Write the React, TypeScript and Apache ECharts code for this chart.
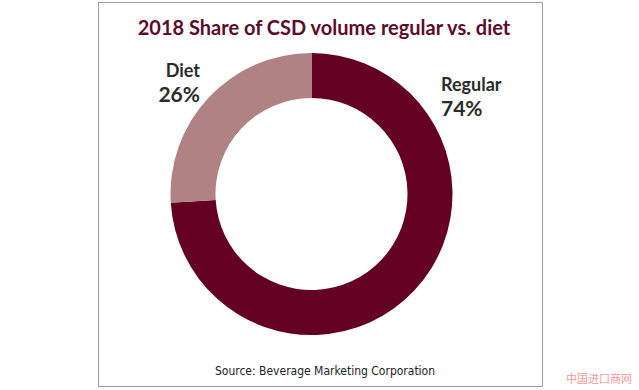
import React, { useEffect, useRef } from "react";
import * as echarts from "echarts";

const categories = ["Regular", "Diet"];
const shares = [74, 26];
const colors = ["#640022", "#b08283"];
const titleText = "2018 Share of CSD volume regular vs. diet";
const sourceText = "Source: Beverage Marketing Corporation";
const watermark = "中国进口商网";

export default function App() {
  const ref = useRef<HTMLDivElement>(null);
  useEffect(() => {
    const chart = echarts.init(ref.current!, null, { renderer: "svg" });
    chart.setOption({
      animation: false,
      backgroundColor: "#ffffff",
      title: [
        {
          text: titleText,
          left: 319,
          textAlign: "center",
          top: 12,
          textStyle: {
            fontFamily: "Lato",
            fontWeight: "bold",
            fontSize: 20,
            color: "#5c0b2b",
          },
        },
        {
          text: sourceText,
          left: 320,
          textAlign: "center",
          top: 360,
          textStyle: {
            fontFamily: "'Liberation Sans Narrow', 'DejaVu Sans Condensed', sans-serif",
            fontWeight: "normal",
            fontSize: 12,
            color: "#222222",
          },
        },
        {
          text: watermark,
          left: 566,
          top: 371,
          padding: 0,
          textStyle: {
            fontFamily: "'Noto Sans CJK SC'",
            fontWeight: "normal",
            fontSize: 11,
            lineHeight: 13,
            color: "#f29a9a",
          },
        },
      ],
      graphic: [
        { type: "line", shape: { x1: 98, y1: 2.5, x2: 542.5, y2: 2.5 }, style: { stroke: "#9a9a9a", lineWidth: 1 } },
        { type: "line", shape: { x1: 98, y1: 386.5, x2: 542.5, y2: 386.5 }, style: { stroke: "#9a9a9a", lineWidth: 1 } },
        { type: "line", shape: { x1: 98.5, y1: 2.5, x2: 98.5, y2: 386.5 }, style: { stroke: "#9a9a9a", lineWidth: 1 } },
        { type: "line", shape: { x1: 542.5, y1: 2.5, x2: 542.5, y2: 386.5 }, style: { stroke: "#9a9a9a", lineWidth: 1 } },
      ],
      series: [
        {
          type: "pie",
          center: [311.5, 194],
          radius: [96, 141],
          startAngle: 90,
          clockwise: true,
          silent: true,
          data: categories.map((c, i) => ({
            name: c,
            value: shares[i],
            itemStyle: { color: colors[i] },
          })),
          label: {
            show: true,
            position: "outside",
            formatter: "{n|{b}}\n{v|{d}%}",
            color: "#2b2b2b",
            rich: {
              n: { fontFamily: "Lato", fontWeight: "bold", fontSize: 18, color: "#2b2b2b", lineHeight: 22 },
              v: { fontFamily: "Lato", fontWeight: "bold", fontSize: 21, color: "#2b2b2b", lineHeight: 24 },
            },
          },
          labelLine: { show: false },
          labelLayout: (params: any) => {
            if (params.dataIndex === 0) {
              return { x: 441, y: 96, align: "left", verticalAlign: "middle" };
            }
            return { x: 200, y: 82, align: "right", verticalAlign: "middle" };
          },
        },
      ],
    });
    return () => chart.dispose();
  }, []);
  return <div ref={ref} style={{ width: 639, height: 390, position: "absolute", left: 0, top: 0 }} />;
}
